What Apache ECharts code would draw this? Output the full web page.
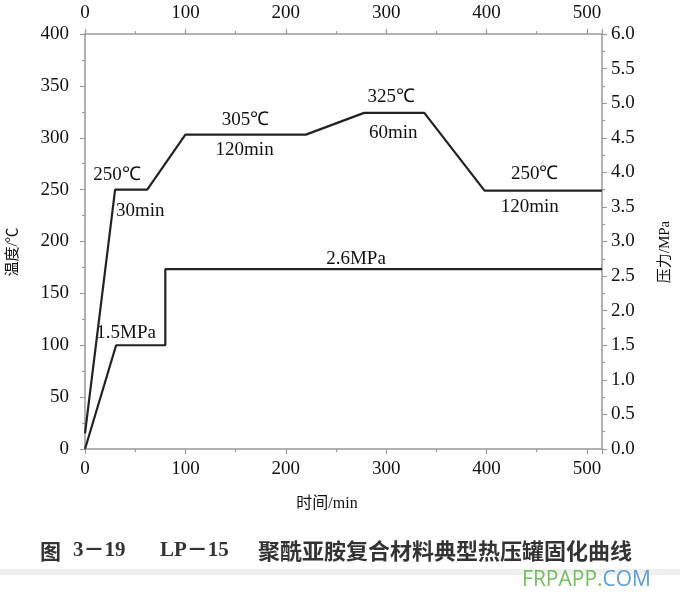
<!DOCTYPE html>
<html><head><meta charset="utf-8">
<script src="https://cdn.jsdelivr.net/npm/echarts@6/dist/echarts.min.js"></script>
<style>html,body{margin:0;padding:0;background:#fff}#c{width:680px;height:602px}</style>
</head><body><div id="c"></div>
<script>
// time axis (min) and value ranges
const timeRange = [0, 515];
const tempRange = [0, 400];
const pressRange = [0, 6];
// temperature curve (°C)
const tempTime  = [0, 30, 62, 100, 220, 278, 338, 398, 515];
const tempValue = [15, 250, 250, 303, 303, 324, 324, 249, 249];
// pressure curve (MPa)
const pressTime  = [0, 31, 80, 80, 515];
const pressValue = [0, 1.5, 1.5, 2.6, 2.6];
// annotations (anchored in time / temperature units)
const noteText = ['250℃', '30min', '305℃', '120min', '325℃', '60min', '250℃', '120min', '1.5MPa', '2.6MPa'];
const noteTime = [32, 55, 160, 159, 305, 307, 448, 443, 41, 270];
const noteTemp = [264, 229, 317, 288, 339, 305, 265, 233, 112, 183];
const xName = '时间/min';
const yLeftName = '温度/℃';
const yRightName = '压力/MPa';
const caption = ['图', '3－19', 'LP－15', '聚酰亚胺复合材料典型热压罐固化曲线'];

const FONT = 'Liberation Serif';
const axisCol = '#999';
const lineCol = '#222';
const txtCol = '#111';

function axisCommon(extra) {
  return Object.assign({
    type: 'value',
    axisLine: {show: true, onZero: false, lineStyle: {color: axisCol, width: 1.5}},
    axisTick: {show: true, length: 5, lineStyle: {color: axisCol, width: 1.2}},
    minorTick: {show: true, splitNumber: 2, length: 3, lineStyle: {color: axisCol, width: 1.2}},
    splitLine: {show: false},
    minorSplitLine: {show: false}
  }, extra);
}

const chart = echarts.init(document.getElementById('c'), null, {renderer: 'canvas'});
const xLabel = v => (v % 100 === 0 ? String(v) : '');
chart.setOption({
  backgroundColor: '#fff',
  animation: false,
  grid: {left: 85, right: 78, top: 34, bottom: 153},
  xAxis: [
    axisCommon({position: 'bottom', min: timeRange[0], max: timeRange[1], interval: 100,
      axisLabel: {fontFamily: FONT, fontSize: 19, color: txtCol, margin: 11, formatter: xLabel, showMaxLabel: false}}),
    axisCommon({position: 'top', min: timeRange[0], max: timeRange[1], interval: 100,
      axisLabel: {fontFamily: FONT, fontSize: 19, color: txtCol, margin: 11, formatter: xLabel, showMaxLabel: false}})
  ],
  yAxis: [
    axisCommon({position: 'left', min: tempRange[0], max: tempRange[1], interval: 50,
      axisLabel: {fontFamily: FONT, fontSize: 19, color: txtCol, margin: 16}}),
    axisCommon({position: 'right', min: pressRange[0], max: pressRange[1], interval: 0.5,
      axisLabel: {fontFamily: FONT, fontSize: 19, color: txtCol, margin: 9, formatter: v => v.toFixed(1)}})
  ],
  series: [
    {type: 'line', xAxisIndex: 0, yAxisIndex: 0, showSymbol: false, silent: true,
     lineStyle: {color: lineCol, width: 2.2},
     data: tempTime.map((t, i) => [t, tempValue[i]])},
    {type: 'line', xAxisIndex: 0, yAxisIndex: 1, showSymbol: false, silent: true,
     lineStyle: {color: lineCol, width: 2.2},
     data: pressTime.map((t, i) => [t, pressValue[i]])},
    {type: 'scatter', xAxisIndex: 0, yAxisIndex: 0, symbolSize: 0, silent: true,
     itemStyle: {opacity: 1, color: txtCol},
     label: {show: true, position: 'inside', formatter: p => p.name,
       fontFamily: FONT, fontSize: 19, color: txtCol, textBorderWidth: 0, opacity: 1},
     data: noteText.map((s, i) => ({name: s, value: [noteTime[i], noteTemp[i]]}))}
  ],
  graphic: [
    {type: 'text', x: 327, y: 504, style: {text: xName, font: '16px "Liberation Serif", "Noto Sans CJK SC"', fill: txtCol, textAlign: 'center', textVerticalAlign: 'middle'}},
    {type: 'text', x: 13, y: 252, rotation: Math.PI / 2, style: {text: yLeftName, font: '15px "Liberation Serif", "Noto Sans CJK SC"', fill: txtCol, textAlign: 'center', textVerticalAlign: 'middle'}},
    {type: 'text', x: 665, y: 252, rotation: Math.PI / 2, style: {text: yRightName, font: '15px "Liberation Serif", "Noto Sans CJK SC"', fill: txtCol, textAlign: 'center', textVerticalAlign: 'middle'}},
    {type: 'rect', shape: {x: 0, y: 569, width: 680, height: 6}, style: {fill: '#efefef'}},
    {type: 'text', x: 40, y: 551, style: {text: caption[0], font: 'bold 21px "Noto Sans CJK SC"', fill: '#333', textAlign: 'left', textVerticalAlign: 'middle'}},
    {type: 'text', x: 73, y: 551, style: {text: caption[1], font: 'bold 21px "Liberation Serif", "Noto Sans CJK SC"', fill: '#333', textAlign: 'left', textVerticalAlign: 'middle'}},
    {type: 'text', x: 160, y: 551, style: {text: caption[2], font: 'bold 21px "Liberation Serif", "Noto Sans CJK SC"', fill: '#333', textAlign: 'left', textVerticalAlign: 'middle'}},
    {type: 'text', x: 258, y: 551, style: {text: caption[3], font: 'bold 22px "Noto Sans CJK SC"', fill: '#333', textAlign: 'left', textVerticalAlign: 'middle'}},
    {type: 'text', x: 651, y: 580, style: {
      text: '{g|FRPAPP.}{b|COM}', textAlign: 'right', textVerticalAlign: 'middle',
      rich: {g: {fontFamily: 'Open Sans', fontSize: 21, fill: '#6fbf5b', color: '#6fbf5b'},
             b: {fontFamily: 'Open Sans', fontSize: 21, fill: '#5b9fd6', color: '#5b9fd6'}}}}
  ]
});
</script></body></html>
